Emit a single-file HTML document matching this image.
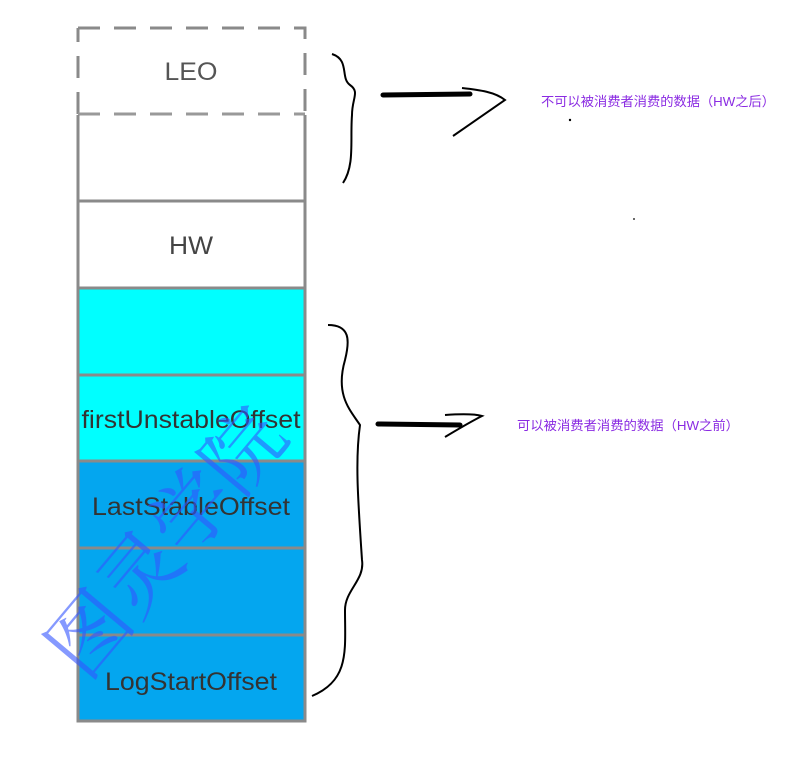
<!DOCTYPE html>
<html><head><meta charset="utf-8"><style>html,body{margin:0;padding:0;background:#fff;width:788px;height:772px;overflow:hidden}</style></head>
<body>
<svg width="788" height="772" xmlns="http://www.w3.org/2000/svg" font-family="Liberation Sans, sans-serif">
<rect x="78" y="288" width="227" height="174" fill="#00ffff"/>
<rect x="78" y="462" width="227" height="259" fill="#04a6ef"/>
<g stroke="#8a8a8a" stroke-width="3" fill="none">
<path d="M78 28 L305 28 L305 114 M78 114 L78 28" stroke-dasharray="22 14"/>
<path d="M78 114 L305 114" stroke-dasharray="22 14" stroke="#999"/>
<path d="M78 115 V721 H305 V115"/>
<path d="M78 201H305M78 288H305M78 375H305M78 461H305M78 548H305M78 635H305"/>
</g>
<g fill="#333" font-size="25" text-anchor="middle" lengthAdjust="spacingAndGlyphs">
<text x="191" y="80" fill="#555" textLength="53" lengthAdjust="spacingAndGlyphs">LEO</text>
<text x="191" y="254" fill="#444" textLength="44" lengthAdjust="spacingAndGlyphs">HW</text>
<text x="191" y="428" textLength="219" lengthAdjust="spacingAndGlyphs">firstUnstableOffset</text>
<text x="191" y="515" textLength="198" lengthAdjust="spacingAndGlyphs">LastStableOffset</text>
<text x="191" y="690" textLength="172" lengthAdjust="spacingAndGlyphs">LogStartOffset</text>
</g>
<text transform="translate(188,560) rotate(-50)" text-anchor="middle" font-family="Liberation Serif, Noto Serif CJK SC, serif" font-size="80" fill="#3355ff" fill-opacity="0.6" textLength="320" lengthAdjust="spacingAndGlyphs">图灵学院</text>
<g fill="none" stroke="#000" stroke-width="2">
<path d="M332 54 C350 60 340 78 350 85 C360 92 352 98 352 115 C350 140 355 165 343 183"/>
<path d="M328 325 C350 325 350 340 345 360 C335 395 350 410 360 425 C355 460 358 500 362 560 C365 580 345 590 345 610 C345 650 350 680 312 696"/>
<path d="M453 136 L505 100 C495 92 480 90 462 88"/>
<path d="M445 437 C460 428 470 422 482 416 C475 414 460 414 445 415"/>
</g>
<path d="M383 95 L470 94" stroke="#000" stroke-width="5" stroke-linecap="round"/>
<path d="M378 424 L460 425" stroke="#000" stroke-width="5" stroke-linecap="round"/>
<circle cx="570" cy="120" r="1.2" fill="#000"/>
<circle cx="634" cy="219" r="0.9" fill="#000"/>
<g font-family="Liberation Sans, Noto Sans CJK SC, sans-serif" font-size="13" fill="#8a2be2">
<text x="541" y="106" textLength="234" lengthAdjust="spacingAndGlyphs">不可以被消费者消费的数据（HW之后）</text>
<text x="517" y="430" textLength="222" lengthAdjust="spacingAndGlyphs">可以被消费者消费的数据（HW之前）</text>
</g>
</svg>
</body></html>
